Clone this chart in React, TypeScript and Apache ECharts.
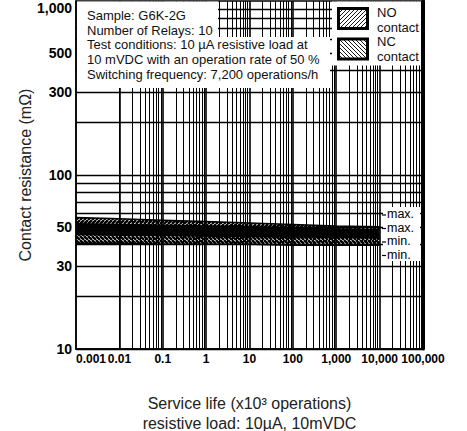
import React, { useEffect, useRef } from "react";
import * as echarts from "echarts";

// ---- data ----
const xPoints = [0.001, 0.01, 0.1, 1, 10, 100, 1000, 10000];
const noMax = [57, 56, 55, 54, 53, 52, 51, 50.5];
const noMin = [45.5, 45, 45, 44.5, 44.5, 44, 44, 43.5];
const ncMax = [52.5, 52, 51.5, 51, 50.5, 49.5, 49, 48.5];
const ncMin = [40.5, 40.5, 40, 40, 40, 39.5, 39.5, 39.5];
const xTickLabels = [0.001, 0.01, 0.1, 1, 10, 100, 1000, 10000, 100000];
const yTickLabels = [10, 30, 50, 100, 300, 500, 1000];
const decadesX = [0.001, 0.01, 0.1, 1, 10, 100, 1000, 10000];
const decadesY = [10, 100];
const gridMultipliers = [1, 2, 3, 4, 5, 6, 7, 8, 9];
const infoLines = [
  "Sample: G6K-2G",
  "Number of Relays: 10",
  "Test conditions: 10 µA resistive load at",
  "10 mVDC with an operation rate of 50 %",
  "Switching frequency: 7,200 operations/h",
];
const legendLines = [["NO", "contact"], ["NC", "contact"]];
const bandLabels = ["max.", "max.", "min.", "min."];
const xTitle = "Service life (x10³ operations)\nresistive load: 10µA, 10mVDC";
const yTitle = "Contact resistance (mΩ)";

const FONT = "'Liberation Sans', Arial, Helvetica, sans-serif";

function hatch(dir: number, size: number, width: number, bg?: string) {
  const c = document.createElement("canvas");
  c.width = size;
  c.height = size;
  const g = c.getContext("2d")!;
  if (bg) {
    g.fillStyle = bg;
    g.fillRect(0, 0, size, size);
  }
  g.strokeStyle = "#000";
  g.lineWidth = width;
  g.beginPath();
  for (const o of [-size, 0, size]) {
    if (dir === 1) {
      g.moveTo(o, size);
      g.lineTo(o + size, 0);
    } else {
      g.moveTo(o, 0);
      g.lineTo(o + size, size);
    }
  }
  g.stroke();
  return { image: c, repeat: "repeat", imageWidth: size, imageHeight: size } as any;
}

function fmt(v: number) {
  return Number(v.toPrecision(6)).toLocaleString("en-US", { maximumFractionDigits: 3 });
}

export default function App() {
  const ref = useRef<HTMLDivElement>(null);
  useEffect(() => {
    if (!ref.current) return;
    const chart = echarts.init(ref.current, undefined, { renderer: "svg" });

    const vLines: any[] = [];
    decadesX.forEach((d) =>
      gridMultipliers.forEach((m) => {
        vLines.push({ xAxis: Number((d * m).toPrecision(4)), lineStyle: { width: m === 1 ? 1.6 : 1 } });
      })
    );
    vLines.push({ xAxis: 100000, lineStyle: { width: 1.6 } });
    const hLines: any[] = [];
    decadesY.forEach((d) =>
      gridMultipliers.forEach((m) => {
        hLines.push({ yAxis: d * m, lineStyle: { width: 1.3 } });
      })
    );

    const pts = (arr: number[]) => xPoints.map((x, i) => [x, arr[i]]);
    const lineSt = { color: "#000", width: 1.5 };
    const bands = [
      { upper: noMax, lower: noMin, fill: hatch(1, 4, 2.4) },
      { upper: ncMax, lower: ncMin, fill: hatch(-1, 4, 2.4) },
    ];

    const lineSeries = (name: string, arr: number[]) => ({
      type: "line",
      name,
      data: pts(arr),
      symbol: "none",
      lineStyle: lineSt,
      z: 5,
      silent: true,
    });

    const option: any = {
      animation: false,
      textStyle: { fontFamily: FONT },
      grid: {
        left: 76,
        right: 44,
        top: 1,
        bottom: 82,
        show: true,
        borderColor: "#000",
        borderWidth: 1.5,
        containLabel: false,
        outerBoundsMode: "none",
      },
      xAxis: {
        type: "log",
        min: 0.001,
        max: 100000,
        logBase: 10,
        name: xTitle,
        nameLocation: "middle",
        nameGap: 44,
        nameMoveOverlap: false,
        nameTextStyle: { fontSize: 16, color: "#222", lineHeight: 20, fontFamily: FONT },
        axisLine: { lineStyle: { color: "#000", width: 1.5 } },
        axisTick: { show: false },
        splitLine: { show: false },
        axisLabel: {
          customValues: xTickLabels,
          formatter: (v: number) => fmt(v),
          color: "#000",
          fontSize: 12,
          fontWeight: "bold",
          margin: 4,
          alignMinLabel: "left",
          fontFamily: FONT,
        },
      },
      yAxis: [
        {
          type: "log",
          min: 10,
          max: 1000,
          logBase: 10,
          name: yTitle,
          nameLocation: "middle",
          nameGap: 43,
          nameRotate: 90,
          nameMoveOverlap: false,
          nameTextStyle: { fontSize: 16, color: "#222", fontFamily: FONT },
          axisLine: { show: true, lineStyle: { color: "#000", width: 1.5 } },
          axisTick: { show: false },
          splitLine: { show: false },
          axisLabel: {
            customValues: yTickLabels,
            formatter: (v: number) => fmt(v),
            color: "#000",
            fontSize: 14,
            fontWeight: "bold",
            margin: 4,
            verticalAlignMaxLabel: "top",
            fontFamily: FONT,
          },
        },
        {
          type: "log",
          min: 10,
          max: 1000,
          logBase: 10,
          position: "right",
          axisLine: { show: true, lineStyle: { color: "#000", width: 3 } },
          axisTick: { show: false },
          axisLabel: { show: false },
          splitLine: { show: false },
        },
      ],
      series: [
        {
          type: "line",
          name: "grid",
          data: [[1, 100]],
          symbol: "none",
          silent: true,
          lineStyle: { opacity: 0 },
          z: 1,
          markLine: {
            silent: true,
            symbol: ["none", "none"],
            label: { show: false },
            animation: false,
            lineStyle: { color: "#000", width: 1, type: "solid" },
            data: [...vLines, ...hLines],
          },
        },
        {
          type: "custom",
          name: "bands",
          silent: true,
          z: 3,
          data: bands.map((b, i) => [xPoints[0], b.lower[0], i]),
          encode: { x: 0, y: 1 },
          renderItem: (_params: any, api: any) => {
            const b = bands[api.value(2)];
            const up = xPoints.map((x, i) => api.coord([x, b.upper[i]]));
            const lo = xPoints.map((x, i) => api.coord([x, b.lower[i]])).reverse();
            return {
              type: "polygon",
              shape: { points: [...up, ...lo] },
              style: { fill: b.fill, stroke: "none" },
            };
          },
        },
        lineSeries("NO max", noMax),
        lineSeries("NO min", noMin),
        lineSeries("NC max", ncMax),
        lineSeries("NC min", ncMin),
      ],
      graphic: [
        { type: "rect", z: 100, shape: { x: 77, y: 1.5, width: 141, height: 36 }, style: { fill: "#fff" } },
        { type: "rect", z: 100, shape: { x: 77, y: 37, width: 253, height: 51 }, style: { fill: "#fff" } },
        ...infoLines.map((t, i) => ({
          type: "text",
          z: 101,
          x: 87,
          y: [15, 30, 44, 59, 74][i],
          style: { text: t, fontSize: 13, fontFamily: FONT, fill: "#111", verticalAlign: "middle" },
        })),
        { type: "rect", z: 100, shape: { x: 332, y: 1.5, width: 89, height: 64 }, style: { fill: "#fff" } },
        ...legendLines.map((_, i) => ({
          type: "rect",
          z: 101,
          shape: { x: 338.5, y: 8.5 + i * 30.5, width: 29, height: 20 },
          style: { fill: hatch(i === 0 ? 1 : -1, 4, 0.9, "#fff"), stroke: "#000", lineWidth: 3 },
        })),
        ...legendLines.flatMap((pair, i) =>
          pair.map((t, j) => ({
            type: "text",
            z: 101,
            x: 377,
            y: 12 + i * 29 + j * 15,
            style: { text: t, fontSize: 13, fontFamily: FONT, fill: "#111", verticalAlign: "middle" },
          }))
        ),
        { type: "rect", z: 100, shape: { x: 383, y: 207, width: 37, height: 54 }, style: { fill: "#fff" } },
        ...bandLabels.map((t, i) => ({
          type: "text",
          z: 101,
          x: 387,
          y: [214, 227.5, 241, 254.5][i],
          style: { text: t, fontSize: 12.5, fontFamily: FONT, fill: "#000", verticalAlign: "middle" },
        })),
        ...bandLabels.map((_, i) => ({
          type: "line",
          z: 101,
          shape: { x1: 382, y1: [215, 228.5, 242, 255.5][i], x2: 386, y2: [215, 228.5, 242, 255.5][i] },
          style: { stroke: "#000", lineWidth: 1.2 },
        })),
      ],
    };
    chart.setOption(option);
    return () => chart.dispose();
  }, []);
  return <div ref={ref} style={{ position: "fixed", left: 0, top: 0, width: 467, height: 431, background: "#fff" }} />;
}
